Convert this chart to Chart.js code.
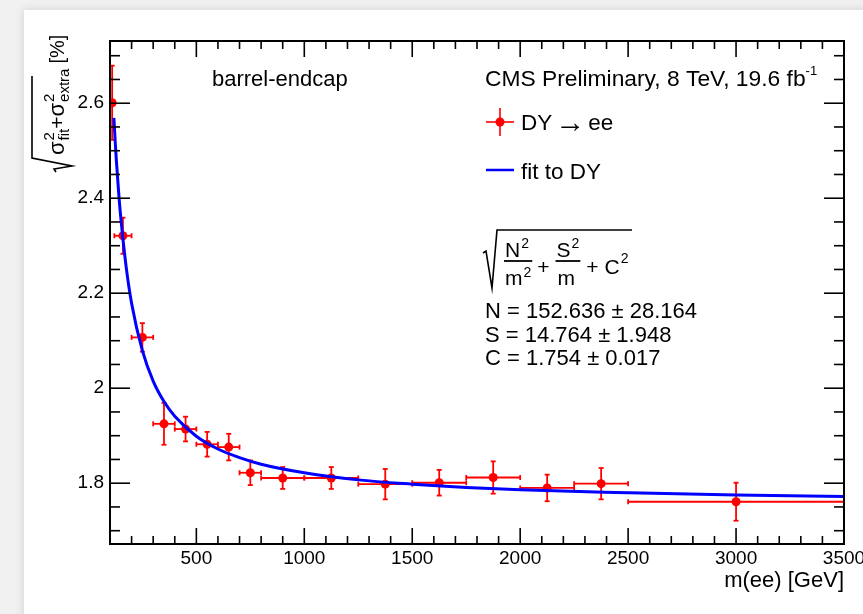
<!DOCTYPE html>
<html>
<head>
<meta charset="utf-8">
<title>DY resolution barrel-endcap</title>
<script src="https://cdn.jsdelivr.net/npm/chart.js@4.4.1/dist/chart.umd.min.js"></script>
<style>
    html, body { margin: 0; padding: 0; background: #f1f1f1; overflow: hidden; }
    .panel {
        position: absolute; left: 24px; top: 10px; width: 900px; height: 700px;
        background: #fff; box-shadow: 0 0 10px rgba(0, 0, 0, 0.13);
    }
    #resChart { position: absolute; left: 0; top: 0; }
</style>
</head>
<body>
<div class="panel"></div>
<canvas id="resChart" width="863" height="614"></canvas>
<script>
// DY -> ee mass resolution, barrel-endcap category
const massCenters    = [110, 160, 250, 350, 450, 550, 650, 750, 900, 1125, 1375, 1625, 1875, 2125, 2375, 3000];
const massHalfWidths = [10, 40, 50, 50, 50, 50, 50, 50, 100, 125, 125, 125, 125, 125, 125, 500];
const resolution     = [2.601, 2.321, 2.107, 1.925, 1.914, 1.882, 1.876, 1.822, 1.811, 1.811, 1.798, 1.801, 1.812, 1.790, 1.799, 1.761];
const resolutionErr  = [0.078, 0.038, 0.030, 0.044, 0.026, 0.026, 0.028, 0.026, 0.023, 0.023, 0.032, 0.027, 0.034, 0.028, 0.033, 0.040];

// fit curve
const fitMass  = [118, 125, 130, 140, 150, 175, 200, 250, 300, 350, 400, 500, 600, 700, 800, 1000, 1250, 1500, 1750, 2000, 2500, 3000, 3500];
const fitValue = [2.569, 2.512, 2.476, 2.413, 2.359, 2.255, 2.179, 2.079, 2.015, 1.972, 1.941, 1.899, 1.872, 1.854, 1.840, 1.822, 1.807, 1.798, 1.791, 1.786, 1.780, 1.775, 1.772];

const xTicks      = [500, 1000, 1500, 2000, 2500, 3000, 3500];
const xTickLabels = ['500', '1000', '1500', '2000', '2500', '3000', '3500'];
const yTicks      = [1.8, 2.0, 2.2, 2.4, 2.6];
const yTickLabels = ['1.8', '2', '2.2', '2.4', '2.6'];

const fitParams = ['N = 152.636 \u00b1 28.164', 'S = 14.764 \u00b1 1.948', 'C = 1.754 \u00b1 0.017'];

const FONT = '"Liberation Sans", Arial, Helvetica, sans-serif';
const RED = '#ff0000';
const BLUE = '#0000ff';

function font(px, fam) { return px + 'px ' + (fam || FONT); }

function line(ctx, x1, y1, x2, y2) {
    ctx.beginPath();
    ctx.moveTo(x1, y1);
    ctx.lineTo(x2, y2);
    ctx.stroke();
}

// draw runs of text left to right, returns end x
function drawRuns(ctx, x, y, runs) {
    runs.forEach(r => {
        ctx.font = font(r.size, r.family);
        ctx.fillText(r.text, x, y + (r.dy || 0));
        x += ctx.measureText(r.text).width + (r.gap || 0);
    });
    return x;
}

// sigma with sup 2 and a subscript, returns end x
function drawSigma(ctx, x, y, sub) {
    ctx.font = font(22);
    ctx.fillText('\u03c3', x, y);
    x += ctx.measureText('\u03c3').width + 1;
    ctx.font = font(15);
    ctx.fillText('2', x, y - 10);
    ctx.fillText(sub, x, y + 5);
    return x + Math.max(ctx.measureText('2').width, ctx.measureText(sub).width);
}

const errorBars = {
    id: 'errorBars',
    beforeDatasetDraw(chart, args) {
        if (args.index !== 1) return;
        const { ctx, scales: { x, y } } = chart;
        ctx.save();
        ctx.strokeStyle = RED;
        ctx.lineWidth = 1.8;
        massCenters.forEach((m, i) => {
            const px = x.getPixelForValue(m);
            const py = y.getPixelForValue(resolution[i]);
            const x1 = x.getPixelForValue(m - massHalfWidths[i]);
            const x2 = x.getPixelForValue(m + massHalfWidths[i]);
            const y1 = y.getPixelForValue(resolution[i] + resolutionErr[i]);
            const y2 = y.getPixelForValue(resolution[i] - resolutionErr[i]);
            line(ctx, x1, py, x2, py);
            line(ctx, px, y1, px, y2);
            // end caps
            line(ctx, x1, py - 2.5, x1, py + 2.5);
            line(ctx, x2, py - 2.5, x2, py + 2.5);
            line(ctx, px - 2.5, y1, px + 2.5, y1);
            line(ctx, px - 2.5, y2, px + 2.5, y2);
        });
        ctx.restore();
    }
};

const rootFrame = {
    id: 'rootFrame',
    afterDraw(chart) {
        const { ctx, chartArea: a, scales: { x, y } } = chart;
        ctx.save();
        ctx.strokeStyle = '#000';
        ctx.fillStyle = '#000';

        // inward ticks on all four sides
        ctx.lineWidth = 1.6;
        for (let v = 200; v <= 3400; v += 100) {
            const px = x.getPixelForValue(v);
            const len = v % 500 === 0 ? 16 : 8;
            line(ctx, px, a.bottom, px, a.bottom - len);
            line(ctx, px, a.top, px, a.top + len);
        }
        for (let k = 34; k <= 54; k++) {
            const v = k * 0.05;
            const py = y.getPixelForValue(v);
            const len = k % 4 === 0 ? 20 : 10;
            line(ctx, a.left, py, a.left + len, py);
            line(ctx, a.right, py, a.right - len, py);
        }
        ctx.lineWidth = 2;
        ctx.strokeRect(a.left, a.top, a.right - a.left, a.bottom - a.top);

        // axis titles
        ctx.textBaseline = 'alphabetic';
        ctx.font = font(22);
        ctx.textAlign = 'right';
        ctx.fillText('m(ee) [GeV]', a.right, 587);
        ctx.textAlign = 'left';

        // y title, rotated
        ctx.save();
        ctx.translate(64, 172);
        ctx.rotate(-Math.PI / 2);
        ctx.lineWidth = 1.6;
        ctx.beginPath();
        ctx.moveTo(0, -8);
        ctx.lineTo(3, -10);
        ctx.lineTo(6, 8);
        ctx.lineTo(14, -32);
        ctx.lineTo(96, -32);
        ctx.stroke();
        let tx = drawSigma(ctx, 17, 0, 'fit');
        tx = drawRuns(ctx, tx, 0, [{ text: '+', size: 21, gap: 0 }]);
        tx = drawSigma(ctx, tx, 0, 'extra');
        drawRuns(ctx, tx + 5, 0, [{ text: '[%]', size: 20 }]);
        ctx.restore();

        // headers
        ctx.font = font(22);
        ctx.fillText('barrel-endcap', 212, 86);
        const cmsEnd = drawRuns(ctx, 485, 86, [{ text: 'CMS Preliminary, 8 TeV, 19.6 fb', size: 22.8 }]);
        drawRuns(ctx, cmsEnd, 75, [{ text: '-1', size: 13 }]);

        // legend
        ctx.strokeStyle = RED;
        ctx.fillStyle = RED;
        ctx.lineWidth = 1.6;
        line(ctx, 486, 122, 514, 122);
        line(ctx, 500, 108, 500, 136);
        ctx.beginPath();
        ctx.arc(500, 122, 4.5, 0, Math.PI * 2);
        ctx.fill();
        ctx.strokeStyle = BLUE;
        ctx.lineWidth = 2.5;
        line(ctx, 486, 170, 514, 170);
        ctx.fillStyle = '#000';
        drawRuns(ctx, 521, 130, [
            { text: 'DY', size: 22.5, gap: 3 },
            { text: '\u2192', size: 30, dy: 2, gap: 3 },
            { text: 'ee', size: 22.5 }
        ]);
        ctx.font = font(22.5);
        ctx.fillText('fit to DY', 521, 179);

        // resolution formula
        ctx.strokeStyle = '#000';
        ctx.lineWidth = 1.6;
        ctx.beginPath();
        ctx.moveTo(483, 253);
        ctx.lineTo(486, 251);
        ctx.lineTo(492, 288);
        ctx.lineTo(497, 230);
        ctx.lineTo(632, 230);
        ctx.stroke();
        let fx = 505;
        ctx.font = font(21);
        ctx.fillText('N', fx, 257);
        ctx.fillText('m', fx, 285);
        let nEnd = drawRuns(ctx, fx + ctx.measureText('N').width + 1, 248, [{ text: '2', size: 14 }]);
        ctx.font = font(21);
        let mEnd = drawRuns(ctx, fx + ctx.measureText('m').width + 1, 277, [{ text: '2', size: 14 }]);
        let barEnd = Math.max(nEnd, mEnd) + 1;
        ctx.lineWidth = 1.8;
        line(ctx, fx - 1, 261, barEnd, 261);
        fx = drawRuns(ctx, barEnd + 5, 274, [{ text: '+', size: 21 }]) + 7;
        ctx.font = font(21);
        nEnd = drawRuns(ctx, fx + ctx.measureText('S').width + 1, 248, [{ text: '2', size: 14 }]);
        ctx.font = font(21);
        ctx.fillText('S', fx, 257);
        ctx.fillText('m', fx + 1, 285);
        line(ctx, fx - 1, 261, nEnd + 1, 261);
        fx = drawRuns(ctx, nEnd + 7, 274, [{ text: '+', size: 21, gap: 6 }, { text: 'C', size: 21, gap: 1 }]);
        drawRuns(ctx, fx, 263, [{ text: '2', size: 14 }]);

        // fit parameters
        ctx.font = font(22);
        fitParams.forEach((t, i) => ctx.fillText(t, 485, 318 + i * 23.6));
        ctx.restore();
    }
};

function init() {
    const ctx = document.getElementById('resChart');
    new Chart(ctx, {
        data: {
            datasets: [{
                type: 'line',
                label: 'fit to DY',
                data: fitMass.map((m, i) => ({ x: m, y: fitValue[i] })),
                borderColor: BLUE,
                borderWidth: 3,
                pointRadius: 0,
                fill: false,
                cubicInterpolationMode: 'monotone',
                order: 0
            }, {
                type: 'scatter',
                label: 'DY \u2192 ee',
                data: massCenters.map((m, i) => ({ x: m, y: resolution[i] })),
                backgroundColor: RED,
                borderColor: RED,
                pointRadius: 4.5,
                pointBorderWidth: 0,
                order: 1
            }]
        },
        options: {
            responsive: false,
            devicePixelRatio: 1,
            animation: false,
            layout: { padding: { top: 41, right: 19, left: 0, bottom: 0 } },
            plugins: { legend: { display: false }, tooltip: { enabled: false } },
            scales: {
                x: {
                    type: 'linear',
                    min: 100,
                    max: 3500,
                    grid: { display: false, drawTicks: false },
                    border: { display: false },
                    afterBuildTicks: s => { s.ticks = xTicks.map(v => ({ value: v })); },
                    afterFit: s => { s.height = 70; s.paddingLeft = 0; s.paddingRight = 0; },
                    ticks: {
                        autoSkip: false,
                        maxRotation: 0,
                        padding: 3,
                        color: '#000',
                        font: { family: FONT, size: 19 },
                        callback: (v, i) => xTickLabels[i]
                    }
                },
                y: {
                    type: 'linear',
                    min: 1.672,
                    max: 2.731,
                    grid: { display: false, drawTicks: false },
                    border: { display: false },
                    afterBuildTicks: s => { s.ticks = yTicks.map(v => ({ value: v })); },
                    afterFit: s => { s.width = 110; s.paddingTop = 0; s.paddingBottom = 0; },
                    ticks: {
                        padding: 6,
                        color: '#000',
                        font: { family: FONT, size: 19 },
                        callback: (v, i) => yTickLabels[i]
                    }
                }
            }
        },
        plugins: [errorBars, rootFrame]
    });
}

document.addEventListener('DOMContentLoaded', init);
</script>
</body>
</html>
